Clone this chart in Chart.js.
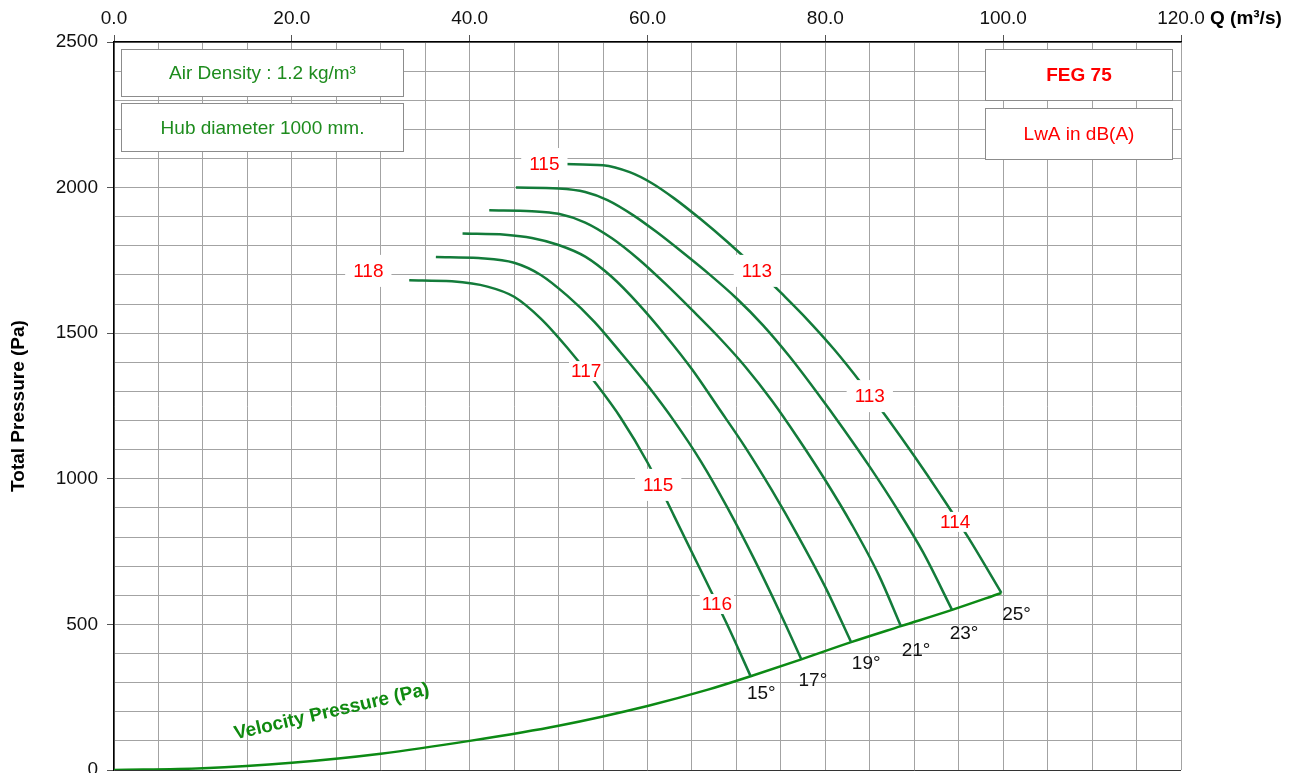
<!DOCTYPE html>
<html>
<head>
<meta charset="utf-8">
<script src="https://cdn.jsdelivr.net/npm/chart.js@4.4.1/dist/chart.umd.min.js"></script>
<style>
    html, body { margin: 0; padding: 0; background: #fff; }
    canvas { display: block; }
</style>
</head>
<body>
<canvas id="fanChart" width="1301" height="773"></canvas>
<script>
// blade angles and their pressure curves (Q in m3/s, P in Pa)
const bladeAngles = ['15°', '17°', '19°', '21°', '23°', '25°'];

const q15 = [33.2, 38, 42, 45, 48, 51, 54, 57, 60, 63, 66, 69, 71.6];
const p15 = [1682, 1678, 1660, 1625, 1550, 1449, 1335, 1209, 1056, 872, 685, 497, 322];

const q17 = [36.2, 41, 45, 48, 51, 54, 57, 60, 63, 66, 69, 72, 75, 77.3];
const p17 = [1762, 1758, 1742, 1700, 1628, 1540, 1433, 1321, 1198, 1060, 900, 724, 534, 380];

const q19 = [39.2, 44, 47, 50, 53, 56, 59, 62, 65, 68, 71, 74, 77, 80, 82.9];
const p19 = [1842, 1838, 1827, 1803, 1763, 1693, 1600, 1493, 1376, 1243, 1108, 960, 800, 628, 439];

const q21 = [42.2, 47, 50, 53, 56, 59, 62, 65, 68, 71, 74, 77, 80, 83, 86, 88.5];
const p21 = [1922, 1919, 1910, 1880, 1826, 1754, 1670, 1580, 1487, 1385, 1268, 1136, 995, 842, 670, 494];

const q23 = [45.2, 50, 53, 55.5, 58.5, 61, 64, 67, 70, 73, 76, 79, 82, 85, 88, 91, 94.25];
const p23 = [2000, 1997, 1985, 1957, 1903, 1848, 1776, 1701, 1620, 1527, 1419, 1299, 1173, 1041, 900, 747, 550];

const q25 = [50.6, 55, 58, 60.5, 63, 66, 69, 72, 75, 78, 81, 84, 87, 90, 93, 96, 99.8];
const p25 = [2081, 2077, 2053, 2015, 1963, 1891, 1813, 1729, 1639, 1546, 1444, 1330, 1207, 1078, 943, 802, 608];

const curveQ = [q15, q17, q19, q21, q23, q25];
const curveP = [p15, p17, p19, p21, p23, p25];

// velocity pressure
const velQ = [0, 10, 20, 30, 40, 50, 60, 66.7, 71.6, 77.3, 82.9, 88.5, 94.25, 99.8];
const velP = [0, 6, 25, 56, 100, 152, 220, 275, 322, 380, 439, 494, 550, 608];

// sound power labels LwA dB(A)
const lwaText = ['115', '118', '113', '117', '113', '115', '114', '116'];
const lwaQ = [48.4, 28.6, 72.3, 53.1, 85.0, 61.2, 94.6, 67.8];
const lwaP = [2081, 1714, 1714, 1370, 1284, 979, 852, 570];

// blade angle labels
const angleQ = [72.8, 78.6, 84.6, 90.2, 95.6, 101.5];
const angleP = [261, 306, 364, 409, 467, 532];

const infoText = ['Air Density : 1.2 kg/m³', 'Hub diameter 1000 mm.', 'FEG 75', 'LwA in dB(A)'];

// ticks
const xMax = 120, xStep = 5, xLabelEvery = 20;
const yMax = 2500, yStep = 100, yLabelEvery = 500;

const FONT = "'Liberation Sans', Arial, sans-serif";
const FS = 19;
Chart.defaults.font.family = FONT;

// box layout in data units [q0, q1, pTop, pBottom]
const boxes = [
    {rect: [0.75, 32.5, 2476, 2316], color: '#1e8c1e', bold: false},
    {rect: [0.75, 32.5, 2290, 2126], color: '#1e8c1e', bold: false},
    {rect: [98.0, 119.0, 2475, 2301], color: '#ff0000', bold: true},
    {rect: [98.0, 119.0, 2274, 2098], color: '#ff0000', bold: false}
];

const toPoints = (qs, ps) => qs.map((q, i) => ({x: q, y: ps[i]}));

let datasets = curveQ.map((qs, i) => ({
    label: bladeAngles[i],
    data: toPoints(qs, curveP[i]),
    showLine: true,
    borderColor: '#137b3a',
    borderWidth: 2.5,
    pointRadius: 0,
    cubicInterpolationMode: 'monotone'
}));

datasets.push({
    label: 'Velocity Pressure (Pa)',
    data: toPoints(velQ, velP),
    showLine: true,
    borderColor: '#0c8a14',
    borderWidth: 2.5,
    pointRadius: 0,
    cubicInterpolationMode: 'monotone'
});

const textPlugin = {
    id: 'fanText',
    afterDatasetsDraw(chart) {
        const ctx = chart.ctx;
        const x = chart.scales.x;
        const y = chart.scales.y;
        ctx.save();

        // info boxes
        boxes.forEach((b, i) => {
            const l = Math.round(x.getPixelForValue(b.rect[0])) + 0.5;
            const r = Math.round(x.getPixelForValue(b.rect[1])) + 0.5;
            const t = Math.round(y.getPixelForValue(b.rect[2])) + 0.5;
            const bt = Math.round(y.getPixelForValue(b.rect[3])) + 0.5;
            ctx.fillStyle = '#fff';
            ctx.fillRect(l, t, r - l, bt - t);
            ctx.strokeStyle = '#8c8c8c';
            ctx.lineWidth = 1;
            ctx.strokeRect(l, t, r - l, bt - t);
            ctx.fillStyle = b.color;
            ctx.font = (b.bold ? 'bold ' : '') + FS + 'px ' + FONT;
            ctx.textAlign = 'center';
            ctx.textBaseline = 'middle';
            ctx.fillText(infoText[i], (l + r) / 2, (t + bt) / 2 + 1);
        });

        // LwA labels with white background
        ctx.font = FS + 'px ' + FONT;
        ctx.textAlign = 'center';
        ctx.textBaseline = 'middle';
        lwaText.forEach((txt, i) => {
            const px = x.getPixelForValue(lwaQ[i]);
            const py = y.getPixelForValue(lwaP[i]);
            const w = ctx.measureText(txt).width;
            const wide = i < 3 || i === 4 || i === 5;
            const padX = wide ? 8 : 2;
            const padY = wide ? 8 : 2;
            ctx.fillStyle = '#fff';
            ctx.fillRect(px - w / 2 - padX, py - 8 - padY, w + padX * 2, 16 + padY * 2);
            ctx.fillStyle = '#ff0000';
            ctx.fillText(txt, px, py + 1);
        });

        // blade angle labels
        ctx.fillStyle = '#111';
        bladeAngles.forEach((txt, i) => {
            ctx.fillText(txt, x.getPixelForValue(angleQ[i]), y.getPixelForValue(angleP[i]));
        });

        // velocity pressure caption
        ctx.save();
        ctx.translate(x.getPixelForValue(24.5), y.getPixelForValue(200));
        ctx.rotate(-13 * Math.PI / 180);
        ctx.fillStyle = '#108a10';
        ctx.font = 'bold ' + FS + 'px ' + FONT;
        ctx.fillText('Velocity Pressure (Pa)', 0, 0);
        ctx.restore();

        // x axis caption next to last tick
        ctx.fillStyle = '#000';
        ctx.textAlign = 'left';
        ctx.font = 'bold ' + FS + 'px ' + FONT;
        ctx.fillText('Q (m³/s)', x.right + 29, 19);

        ctx.restore();
    }
};

const ctx = document.getElementById('fanChart').getContext('2d');

new Chart(ctx, {
    type: 'scatter',
    data: { datasets: datasets },
    options: {
        responsive: false,
        animation: false,
        layout: { padding: { left: 0, right: 120, top: 0, bottom: 3 } },
        plugins: {
            legend: { display: false },
            tooltip: { enabled: false }
        },
        scales: {
            x: {
                type: 'linear',
                position: 'top',
                min: 0,
                max: xMax,
                ticks: {
                    stepSize: xStep,
                    autoSkip: false,
                    maxRotation: 0,
                    color: '#111',
                    padding: 5,
                    font: { size: FS },
                    callback: (v) => v % xLabelEvery === 0 ? v.toFixed(1) : ''
                },
                grid: {
                    color: '#a3a3a3',
                    tickLength: 7,
                    tickColor: (c) => c.tick && c.tick.value % xLabelEvery === 0 ? '#555' : 'rgba(0,0,0,0)'
                },
                border: { color: '#000', width: 1.5 },
                afterFit(s) {
                    s.height = 42;
                    s.paddingLeft = 0;
                    s.paddingRight = 0;
                }
            },
            y: {
                type: 'linear',
                min: 0,
                max: yMax,
                ticks: {
                    stepSize: yStep,
                    autoSkip: false,
                    color: '#111',
                    padding: 9,
                    font: { size: FS },
                    callback: (v) => v % yLabelEvery === 0 ? v : ''
                },
                grid: {
                    color: (c) => c.tick && c.tick.value === 0 ? '#333' : '#a3a3a3',
                    tickLength: 7,
                    tickColor: (c) => c.tick && c.tick.value % yLabelEvery === 0 ? '#555' : 'rgba(0,0,0,0)'
                },
                border: { color: '#000', width: 1.5 },
                title: {
                    display: true,
                    text: 'Total Pressure (Pa)',
                    color: '#000',
                    font: { size: FS, weight: 'bold' },
                    padding: { top: 7, bottom: 0 }
                },
                afterFit(s) {
                    s.width = 114;
                    s.paddingTop = 0;
                    s.paddingBottom = 0;
                }
            }
        }
    },
    plugins: [textPlugin]
});
</script>
</body>
</html>
